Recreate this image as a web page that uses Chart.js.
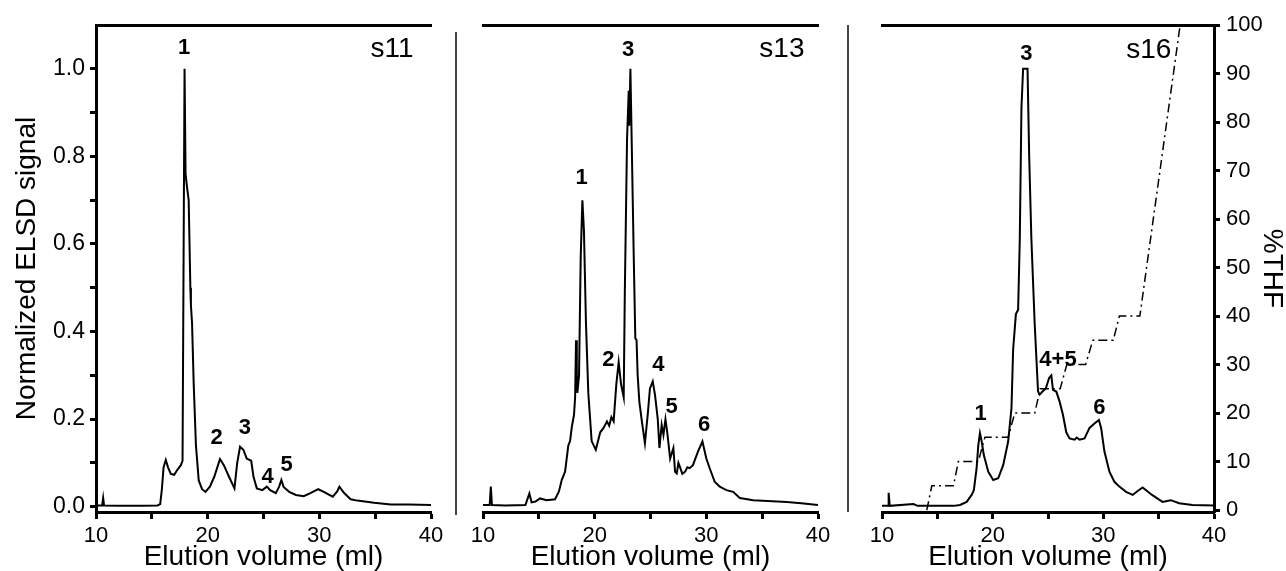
<!DOCTYPE html>
<html>
<head>
<meta charset="utf-8">
<script src="https://cdn.jsdelivr.net/npm/chart.js@4"></script>
<style>
  body { margin: 0; background: #fff; }
  #wrap { position: relative; width: 1286px; height: 571px; overflow: hidden; background: #fff; }
  canvas { position: absolute; top: 0; }
  .sep { position: absolute; width: 2px; background: #444; }
</style>
</head>
<body>
<div id="wrap">
  <canvas id="c11" width="456" height="571" style="left:0"></canvas>
  <canvas id="c13" width="392" height="571" style="left:456px"></canvas>
  <canvas id="c16" width="438" height="571" style="left:848px"></canvas>
  <div class="sep" style="left:455px; top:32px; height:483px"></div>
  <div class="sep" style="left:847px; top:25px; height:487px"></div>
</div>
<script>
const FONT = "'Liberation Sans', Arial, sans-serif";

// tick positions
const volumeTicks = [10, 15, 20, 25, 30, 35, 40];
const elsdTicks = [0, 0.1, 0.2, 0.3, 0.4, 0.5, 0.6, 0.7, 0.8, 0.9, 1.0];
const thfTicks = [0, 5, 10, 15, 20, 25, 30, 35, 40, 45, 50, 55, 60, 65, 70, 75, 80, 85, 90, 95, 100];

// s11 trace
const s11Volume = [10.0, 10.55, 10.64, 10.72, 12, 14, 15.5, 15.75, 15.9, 16.05, 16.25, 16.45, 16.7, 17.0, 17.3, 17.6, 17.75,
  17.85, 17.93, 18.02, 18.15, 18.3, 18.45, 18.5, 18.6, 18.75, 18.95, 19.2, 19.5, 19.8, 20.2, 20.6, 21.1, 21.45, 21.9,
  22.4, 22.64, 22.9, 23.2, 23.5, 23.9, 24.1, 24.4, 24.9, 25.3, 25.6, 26.1, 26.4, 26.6, 26.8, 27.3, 27.9, 28.6, 29.2,
  29.9, 30.4, 31.2, 31.6, 31.8, 32.2, 32.8, 33.4, 34.9, 36.4, 38, 40];
const s11Signal = [0.003, 0.003, 0.02, 0.003, 0.002, 0.002, 0.003, 0.006, 0.04, 0.09, 0.107, 0.09, 0.075, 0.073, 0.085, 0.095, 0.105,
  0.6, 1.0, 0.76, 0.73, 0.7, 0.5, 0.46, 0.42, 0.28, 0.14, 0.06, 0.04, 0.034, 0.046, 0.069, 0.109, 0.095, 0.069,
  0.042, 0.099, 0.137, 0.13, 0.11, 0.105, 0.069, 0.042, 0.038, 0.046, 0.038, 0.031, 0.046, 0.061, 0.045, 0.034, 0.027, 0.024, 0.031,
  0.04, 0.034, 0.023, 0.035, 0.046, 0.032, 0.017, 0.014, 0.009, 0.005, 0.005, 0.004];

// s13 trace
const s13Volume = [10.0, 10.6, 10.7, 10.8, 12, 13.8, 14.15, 14.35, 14.7, 15.1, 15.7, 16.45, 16.8, 17.05, 17.35, 17.64, 17.8, 17.94,
  18.15, 18.25, 18.33, 18.4, 18.45, 18.6, 18.75, 18.9, 19.04, 19.22, 19.43, 19.73, 20.1, 20.5, 20.8, 21.1, 21.3, 21.5, 21.7,
  21.94, 22.15, 22.36, 22.6, 22.7, 22.9, 23.05, 23.1, 23.2, 23.34, 23.5, 23.64, 23.75, 23.85, 24.0, 24.2, 24.5, 24.75, 24.95,
  25.2, 25.4, 25.65, 25.8, 26.0, 26.16, 26.34, 26.5, 26.76, 27.05, 27.2, 27.35, 27.5, 27.65, 27.85, 28.1, 28.3, 28.5, 28.8,
  29.25, 29.65, 30.0, 30.3, 30.75, 31.2, 31.8, 32.4, 33.0, 34.2, 35.5, 37.2, 38.5, 40];
const s13Signal = [0.004, 0.004, 0.046, 0.004, 0.003, 0.004, 0.03, 0.01, 0.012, 0.019, 0.015, 0.017, 0.035, 0.061, 0.08, 0.14, 0.15, 0.18,
  0.21, 0.25, 0.38, 0.3, 0.26, 0.30, 0.57, 0.70, 0.63, 0.42, 0.26, 0.15, 0.13, 0.17, 0.18, 0.195, 0.185, 0.205, 0.195,
  0.28, 0.33, 0.28, 0.25, 0.49, 0.84, 0.95, 0.87, 1.0, 0.80, 0.57, 0.385, 0.38, 0.30, 0.24, 0.20, 0.145, 0.21, 0.27,
  0.286, 0.256, 0.20, 0.134, 0.187, 0.164, 0.20, 0.17, 0.11, 0.134, 0.08, 0.076, 0.1, 0.09, 0.075, 0.08, 0.09, 0.088, 0.095,
  0.126, 0.149, 0.11, 0.088, 0.057, 0.046, 0.038, 0.034, 0.02, 0.015, 0.013, 0.011, 0.008, 0.004];

// s16 trace
const s16Volume = [10.0, 10.55, 10.6, 10.7, 12.85, 13.2, 16.45, 17.05, 17.65, 18.1, 18.3, 18.55, 18.7, 18.85, 19.0, 19.2, 19.6,
  20.05, 20.5, 20.95, 21.4, 21.7, 21.85, 22.1, 22.3, 22.45, 22.6, 22.75, 23.15, 23.3, 23.5, 23.8, 24.1, 24.25, 24.5, 24.8,
  25.1, 25.3, 25.45, 25.75, 26.05, 26.35, 26.65, 26.95, 27.4, 27.6, 27.85, 28.3, 28.75, 29.2, 29.6, 29.8, 30.1, 30.55,
  31.0, 31.45, 32.05, 32.65, 33.1, 33.55, 34.4, 35.35, 36.1, 36.85, 38.05, 40];
const s16Signal = [0.002, 0.002, 0.032, 0.002, 0.006, 0.002, 0.002, 0.004, 0.011, 0.027, 0.038, 0.088, 0.14, 0.168, 0.15, 0.118, 0.08,
  0.061, 0.065, 0.095, 0.149, 0.225, 0.36, 0.44, 0.45, 0.61, 0.91, 1.0, 1.0, 0.80, 0.61, 0.416, 0.263, 0.256, 0.263, 0.27,
  0.294, 0.30, 0.267, 0.263, 0.24, 0.21, 0.17, 0.156, 0.153, 0.158, 0.153, 0.156, 0.18, 0.19, 0.198, 0.18, 0.126, 0.08,
  0.057, 0.046, 0.034, 0.027, 0.036, 0.044, 0.027, 0.011, 0.015, 0.008, 0.004, 0.003];

// THF gradient for s16
const thfVolume = [14.05, 14.5, 16.45, 16.9, 18.7, 19.3, 21.4, 22.0, 23.8, 24.3, 26.1, 26.7, 28.4, 29.05, 30.9, 31.45, 33.3, 36.94];
const thfPercent = [0, 5, 5, 10, 10, 15, 15, 20, 20, 25, 25, 30, 30, 35, 35, 40, 40, 100];

// peak labels, placed in data units
const s11Labels = [['1', 17.88, 1.047], ['2', 20.8, 0.157], ['3', 23.34, 0.18], ['4', 25.37, 0.069], ['5', 27.07, 0.095]];
const s13Labels = [['1', 18.84, 0.75], ['3', 23.0, 1.043], ['2', 21.22, 0.335], ['4', 25.7, 0.324], ['5', 26.9, 0.228], ['6', 29.8, 0.187]];
const s16Labels = [['3', 23.05, 1.035], ['1', 18.91, 0.213], ['4+5', 25.9, 0.335], ['6', 29.65, 0.225]];

function toPoints(xs, ys) {
  return xs.map((x, i) => ({ x: x, y: ys[i] }));
}

const peakText = {
  id: 'peakText',
  afterDatasetsDraw(chart, args, opts) {
    const c = chart.ctx;
    const xs = chart.scales.x, ys = chart.scales.y;
    c.save();
    c.fillStyle = '#000';
    c.textAlign = 'center';
    c.textBaseline = 'middle';
    c.font = 'bold 22px ' + FONT;
    opts.items.forEach(([t, x, y]) => c.fillText(t, xs.getPixelForValue(x), ys.getPixelForValue(y)));
    c.font = '28px ' + FONT;
    c.fillText(opts.name[0], xs.getPixelForValue(opts.name[1]), ys.getPixelForValue(opts.name[2]));
    c.restore();
  }
};

function makePanel(id, o) {
  const scales = {
    x: {
      type: 'linear', position: 'bottom', min: 10, max: 40,
      afterBuildTicks: s => { s.ticks = volumeTicks.map(v => ({ value: v })); },
      afterFit: s => { s.height = 59; },
      ticks: {
        color: '#000', font: { family: FONT, size: 22 }, maxRotation: 0, autoSkip: false, padding: 4,
        callback: v => (v % 10 === 0 ? v : '')
      },
      grid: { drawOnChartArea: false, drawTicks: true, tickLength: 7, tickWidth: 3, tickColor: '#000' },
      border: { display: true, width: 3, color: '#000' },
      title: { display: true, text: 'Elution volume (ml)', color: '#000', font: { family: FONT, size: 28 }, padding: { top: 0, bottom: -3 } }
    },
    xTop: {
      type: 'linear', position: 'top', min: 10, max: 40,
      afterFit: s => { s.height = 25; },
      ticks: { display: false },
      grid: { drawOnChartArea: false, drawTicks: false },
      border: { display: true, width: 3, color: '#000' }
    },
    y: {
      type: 'linear', position: 'left', min: -0.012, max: 1.1,
      display: o.showLeft,
      afterBuildTicks: s => { s.ticks = elsdTicks.map(v => ({ value: v })); },
      afterFit: s => { s.width = o.showLeft ? 96 : 0; },
      ticks: {
        color: '#000', font: { family: FONT, size: 23 }, padding: 5,
        callback: v => (Math.round(v * 10) % 2 === 0 ? v.toFixed(1) : '')
      },
      grid: { drawOnChartArea: false, drawTicks: true, tickLength: 6, tickWidth: 3, tickColor: '#000' },
      border: { display: true, width: 3, color: '#000' },
      title: { display: true, text: 'Normalized ELSD signal', color: '#000', font: { family: FONT, size: 28 }, padding: { top: 10 } }
    }
  };
  const datasets = [{
    data: toPoints(o.volume, o.signal), yAxisID: 'y',
    borderColor: '#000', borderWidth: 2, pointRadius: 0, tension: 0
  }];
  if (o.thf) {
    scales.y2 = {
      type: 'linear', position: 'right', min: -0.4, max: 100,
      afterBuildTicks: s => { s.ticks = thfTicks.map(v => ({ value: v })); },
      afterFit: s => { s.width = 72; },
      ticks: {
        color: '#000', font: { family: FONT, size: 22 }, padding: 6,
        callback: v => (v % 10 === 0 ? v : '')
      },
      grid: { drawOnChartArea: false, drawTicks: true, tickLength: 6, tickWidth: 3, tickColor: '#000' },
      border: { display: true, width: 3, color: '#000' },
      title: { display: true, text: '%THF', color: '#000', font: { family: FONT, size: 28 }, padding: { top: -3 } }
    };
    datasets.push({
      data: toPoints(thfVolume, thfPercent), yAxisID: 'y2',
      borderColor: '#000', borderWidth: 1.5, borderDash: [9, 4, 2, 4], pointRadius: 0, tension: 0
    });
  }
  new Chart(document.getElementById(id), {
    type: 'line',
    data: { datasets },
    options: {
      responsive: false,
      animation: false,
      layout: { padding: o.padding },
      plugins: {
        legend: { display: false },
        tooltip: { enabled: false },
        peakText: { items: o.labels, name: o.name }
      },
      scales
    },
    plugins: [peakText]
  });
}

makePanel('c11', {
  volume: s11Volume, signal: s11Signal, labels: s11Labels, name: ['s11', 36.5, 1.045],
  showLeft: true, padding: { left: 0, right: 25, top: 0, bottom: 0 }
});
makePanel('c13', {
  volume: s13Volume, signal: s13Signal, labels: s13Labels, name: ['s13', 36.77, 1.045],
  showLeft: false, padding: { left: 27, right: 30, top: 0, bottom: 0 }
});
makePanel('c16', {
  volume: s16Volume, signal: s16Signal, labels: s16Labels, name: ['s16', 34.1, 1.043],
  showLeft: false, thf: true, padding: { left: 34, right: 0, top: 0, bottom: 0 }
});
</script>
</body>
</html>
